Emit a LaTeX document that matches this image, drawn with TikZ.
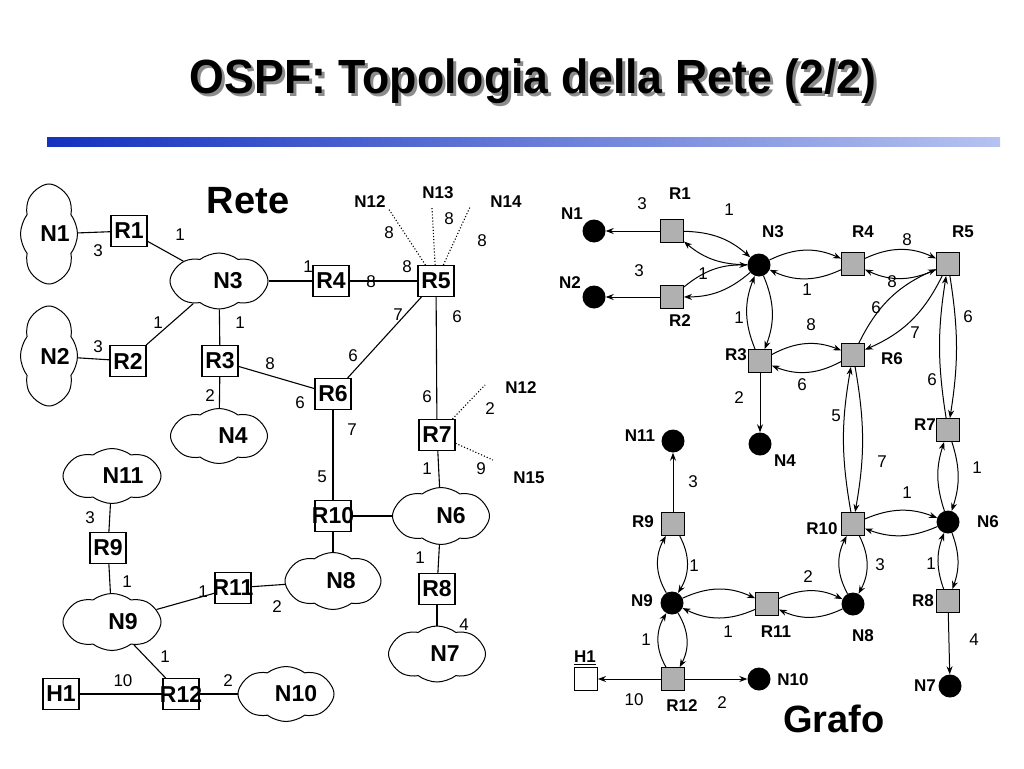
\documentclass[tikz,border=0pt]{standalone}
\usepackage{fontspec}
\setmainfont{Liberation Sans}
\usepackage{graphicx}
\usetikzlibrary{shapes.symbols,arrows.meta}
\definecolor{barL}{RGB}{20,50,190}
\definecolor{barR}{RGB}{182,194,240}
\definecolor{sqgray}{RGB}{176,176,176}
\definecolor{shadowgray}{RGB}{140,140,140}
\newcommand\fsBig{\fontsize{23}{26}\selectfont\bfseries}
\newcommand\fsMid{\fontsize{17}{20}\selectfont\bfseries}
\newcommand\fsNum{\fontsize{17}{20}\selectfont}
\newcommand\fsHead{\fontsize{38}{44}\selectfont\bfseries}
\newcommand\fsTitle{\fontsize{48}{56}\selectfont\bfseries}
\newcommand\cbx[1]{\makebox[0pt][c]{#1}}
\newcommand\ttl{\scalebox{0.93}[1]{OSPF: Topologia della Rete (2/2)}}
\begin{document}
\begin{tikzpicture}[x=1pt,y=-1pt,
  ln/.style={line width=1.1pt},
  dl/.style={line width=1.1pt, dotted},
  rbox/.style={draw, line width=1.1pt, minimum width=36pt, minimum height=31pt, inner sep=0pt, font=\fsBig, fill=white},
  cl/.style={cloud, draw, line width=1pt, cloud puffs=8, cloud puff arc=75, cloud ignores aspect, inner sep=0pt, font=\fsBig},
  wt/.style={font=\fsNum, inner sep=1pt},
  lb/.style={font=\fsMid, inner sep=1pt},
  gsq/.style={draw, line width=0.9pt, fill=sqgray, minimum size=23pt, inner sep=0pt},
  hsq/.style={draw, line width=0.9pt, fill=white, minimum size=23pt, inner sep=0pt},
  gdot/.style={circle, fill=black, minimum size=23pt, inner sep=0pt},
  ar/.style={line width=1pt, -{Stealth[length=8pt,width=6pt]}},
  bl/.style={ar, bend left=#1}]
\useasboundingbox (0,0) rectangle (1024,768);

% title
\node[font=\fsTitle, text=shadowgray, anchor=base] (tsh) at (536,96) {\ttl};
\node[font=\fsTitle, anchor=base] (title) at (533,93) {\ttl};
\fill[left color=barL, right color=barR] (47,137) rectangle (1000,146);

% ================= Rete =================
\node[font=\fsHead] (hRete) at (248,201) {Rete};

\node[cl, minimum width=48pt, minimum height=100pt] (N1) at (49,234) {\hspace*{12pt}N1};
\node[cl, minimum width=48pt, minimum height=100pt] (N2) at (49,356) {\hspace*{12pt}N2};
\node[cl, minimum width=98pt, minimum height=56pt] (N3) at (219,281) {\hspace*{18pt}N3};
\node[cl, minimum width=97pt, minimum height=55pt] (N4) at (219,436) {\hspace*{28pt}N4};
\node[cl, minimum width=97pt, minimum height=57pt] (N6) at (441,516) {\hspace*{20pt}N6};
\node[cl, minimum width=97pt, minimum height=56pt] (N7) at (437,654) {\hspace*{16pt}N7};
\node[cl, minimum width=96pt, minimum height=57pt] (N8) at (333,581) {\hspace*{16pt}N8};
\node[cl, minimum width=98pt, minimum height=57pt] (N9) at (112,622) {\hspace*{22pt}N9};
\node[cl, minimum width=96pt, minimum height=55pt] (N10) at (286,694) {\hspace*{20pt}N10};
\node[cl, minimum width=98pt, minimum height=55pt] (N11) at (112,476) {\hspace*{22pt}N11};

\node[rbox] (R1) at (129,231) {\cbx{R1}};
\node[rbox] (R2) at (128,361) {\cbx{R2}};
\node[rbox] (R3) at (220,361) {\cbx{R3}};
\node[rbox] (R4) at (331,281) {\cbx{R4}};
\node[rbox] (R5) at (436,281) {\cbx{R5}};
\node[rbox] (R6) at (333,394) {\cbx{R6}};
\node[rbox] (R7) at (437,435) {\cbx{R7}};
\node[rbox] (R8) at (437,589) {\cbx{R8}};
\node[rbox] (R9) at (108,548) {\cbx{R9}};
\node[rbox] (R10) at (333,516) {\cbx{R10}};
\node[rbox] (R11) at (233,588) {\cbx{R11}};
\node[rbox] (R12) at (181,694) {\cbx{R12}};
\node[rbox] (H1) at (61,694) {\cbx{H1}};

\coordinate (e12) at (388,208);
\coordinate (e13) at (432,208);
\coordinate (e14) at (470,207);
\coordinate (f12) at (485,385);
\coordinate (f15) at (493,460);

\draw[ln] (N1) -- (R1);
\draw[ln] (R1) -- (N3);
\draw[ln] (N2) -- (R2);
\draw[ln] (R2) -- (N3);
\draw[ln] (N3) -- (R3);
\draw[ln] (N3) -- (R4);
\draw[ln] (R4) -- (R5);
\draw[ln] (R5) -- (R6);
\draw[ln] (R5) -- (R7);
\draw[ln] (R3) -- (R6);
\draw[ln] (R3) -- (N4);
\draw[ln] (R6) -- (R10);
\draw[ln] (R7) -- (N6);
\draw[ln] (R10) -- (N6);
\draw[ln] (R10) -- (N8);
\draw[ln] (N6) -- (R8);
\draw[ln] (R8) -- (N7);
\draw[ln] (N8) -- (R11);
\draw[ln] (R11) -- (N9);
\draw[ln] (N11) -- (R9);
\draw[ln] (R9) -- (N9);
\draw[ln] (N9) -- (R12);
\draw[ln] (H1) -- (R12);
\draw[ln] (R12) -- (N10);
\draw[dl] (R5) -- (e12);
\draw[dl] (R5) -- (e13);
\draw[dl] (R5) -- (e14);
\draw[dl] (R7) -- (f12);
\draw[dl] (R7) -- (f15);

\node[lb] (tN12a) at (370,202) {N12};
\node[lb] (tN13) at (438,193) {N13};
\node[lb] (tN14) at (506,202) {N14};
\node[lb] (tN12b) at (521,388) {N12};
\node[lb] (tN15) at (529,478) {N15};

\node[wt] (a1) at (98,251) {3};
\node[wt] (a2) at (180,235) {1};
\node[wt] (a3) at (98,347) {3};
\node[wt] (a4) at (158,323) {1};
\node[wt] (a5) at (240,323) {1};
\node[wt] (a6) at (308,267) {1};
\node[wt] (a7) at (371,282) {8};
\node[wt] (a8) at (407,267) {8};
\node[wt] (a9) at (389,233) {8};
\node[wt] (a10) at (449,219) {8};
\node[wt] (a11) at (482,241) {8};
\node[wt] (a12) at (398,315) {7};
\node[wt] (a13) at (353,356) {6};
\node[wt] (a14) at (457,317) {6};
\node[wt] (a15) at (270,364) {8};
\node[wt] (a16) at (300,403) {6};
\node[wt] (a17) at (210,396) {2};
\node[wt] (a18) at (352,430) {7};
\node[wt] (a19) at (322,477) {5};
\node[wt] (a20) at (427,397) {6};
\node[wt] (a21) at (490,409) {2};
\node[wt] (a22) at (481,469) {9};
\node[wt] (a23) at (427,469) {1};
\node[wt] (a24) at (420,558) {1};
\node[wt] (a25) at (464,625) {4};
\node[wt] (a26) at (277,607) {2};
\node[wt] (a27) at (203,592) {1};
\node[wt] (a28) at (90,518) {3};
\node[wt] (a29) at (127,582) {1};
\node[wt] (a30) at (165,657) {1};
\node[wt] (a31) at (123,681) {10};
\node[wt] (a32) at (228,681) {2};

% ================= Grafo =================
\node[font=\fsHead] (hGrafo) at (834,719) {Grafo};

\node[gdot] (gN1) at (594,231) {};
\node[gdot] (gN2) at (594,297) {};
\node[gdot] (gN3) at (759,265) {};
\node[gdot] (gN4) at (760,444) {};
\node[gdot] (gN6) at (948,522) {};
\node[gdot] (gN7) at (950,686) {};
\node[gdot] (gN8) at (853,604) {};
\node[gdot] (gN9) at (672,603) {};
\node[gdot] (gN10) at (759,679) {};
\node[gdot] (gN11) at (673,441) {};
\node[gsq] (gR1) at (672,231) {};
\node[gsq] (gR2) at (672,297) {};
\node[gsq] (gR3) at (760,361) {};
\node[gsq] (gR4) at (853,264) {};
\node[gsq] (gR5) at (948,264) {};
\node[gsq] (gR6) at (853,355) {};
\node[gsq] (gR7) at (948,430) {};
\node[gsq] (gR8) at (948,601) {};
\node[gsq] (gR9) at (673,524) {};
\node[gsq] (gR10) at (853,524) {};
\node[gsq] (gR11) at (767,604) {};
\node[gsq] (gR12) at (673,679) {};
\node[hsq] (gH1) at (586,679) {};

\draw[ar] (gR1) -- (gN1);
\draw[ar] (gR2) -- (gN2);
\draw[bl=20] (gR1) to (gN3);
\draw[bl=20] (gN3) to (gR1);
\draw[bl=20] (gR2) to (gN3);
\draw[bl=20] (gN3) to (gR2);
\draw[bl=22] (gN3) to (gR3);
\draw[bl=22] (gR3) to (gN3);
\draw[bl=25] (gN3) to (gR4);
\draw[bl=25] (gR4) to (gN3);
\draw[bl=25] (gR4) to (gR5);
\draw[bl=25] (gR5) to (gR4);
\draw[bl=25] (gR3) to (gR6);
\draw[bl=25] (gR6) to (gR3);
\draw[bl=20] (gR5) to (gR6);
\draw[bl=20] (gR6) to (gR5);
\draw[bl=9] (gR5) to (gR7);
\draw[bl=9] (gR7) to (gR5);
\draw[bl=10] (gR6) to (gR10);
\draw[bl=10] (gR10) to (gR6);
\draw[bl=18] (gR7) to (gN6);
\draw[bl=18] (gN6) to (gR7);
\draw[bl=22] (gR10) to (gN6);
\draw[bl=22] (gN6) to (gR10);
\draw[bl=28] (gR10) to (gN8);
\draw[bl=28] (gN8) to (gR10);
\draw[bl=20] (gN6) to (gR8);
\draw[bl=20] (gR8) to (gN6);
\draw[ar] (gR8) -- (gN7);
\draw[ar] (gR3) -- (gN4);
\draw[ar] (gR9) -- (gN11);
\draw[bl=30] (gR9) to (gN9);
\draw[bl=30] (gN9) to (gR9);
\draw[bl=25] (gN9) to (gR11);
\draw[bl=25] (gR11) to (gN9);
\draw[bl=25] (gR11) to (gN8);
\draw[bl=25] (gN8) to (gR11);
\draw[bl=30] (gN9) to (gR12);
\draw[bl=30] (gR12) to (gN9);
\draw[ar] (gR12) -- (gH1);
\draw[ar] (gR12) -- (gN10);

\node[lb] (lN1) at (572,214) {N1};
\node[lb] (lN2) at (570,283) {N2};
\node[lb] (lN3) at (773,232) {N3};
\node[lb] (lN4) at (785,461) {N4};
\node[lb] (lN6) at (988,522) {N6};
\node[lb] (lN7) at (925,686) {N7};
\node[lb] (lN8) at (863,636) {N8};
\node[lb] (lN9) at (642,601) {N9};
\node[lb] (lN10) at (793,680) {N10};
\node[lb] (lN11) at (640,436) {N11};
\node[lb] (lR1) at (680,194) {R1};
\node[lb] (lR2) at (680,321) {R2};
\node[lb] (lR3) at (736,355) {R3};
\node[lb] (lR4) at (863,232) {R4};
\node[lb] (lR5) at (963,232) {R5};
\node[lb] (lR6) at (892,359) {R6};
\node[lb] (lR7) at (925,425) {R7};
\node[lb] (lR8) at (923,601) {R8};
\node[lb] (lR9) at (643,522) {R9};
\node[lb] (lR10) at (822,529) {R10};
\node[lb] (lR11) at (776,632) {R11};
\node[lb] (lR12) at (682,706) {R12};
\node[lb] (lH1) at (585,658) {\underline{H1}};

\node[wt] (b1) at (642,204) {3};
\node[wt] (b2) at (729,210) {1};
\node[wt] (b3) at (639,271) {3};
\node[wt] (b4) at (703,274) {1};
\node[wt] (b5) at (739,318) {1};
\node[wt] (b6) at (739,398) {2};
\node[wt] (b7) at (807,290) {1};
\node[wt] (b8) at (907,240) {8};
\node[wt] (b9) at (892,282) {8};
\node[wt] (b10) at (876,308) {6};
\node[wt] (b11) at (915,333) {7};
\node[wt] (b12) at (968,317) {6};
\node[wt] (b13) at (811,325) {8};
\node[wt] (b14) at (802,385) {6};
\node[wt] (b15) at (932,380) {6};
\node[wt] (b16) at (836,416) {5};
\node[wt] (b17) at (882,462) {7};
\node[wt] (b18) at (977,468) {1};
\node[wt] (b19) at (907,493) {1};
\node[wt] (b20) at (880,565) {3};
\node[wt] (b21) at (931,564) {1};
\node[wt] (b22) at (808,577) {2};
\node[wt] (b23) at (974,640) {4};
\node[wt] (b24) at (693,482) {3};
\node[wt] (b25) at (694,566) {1};
\node[wt] (b26) at (728,632) {1};
\node[wt] (b27) at (646,640) {1};
\node[wt] (b28) at (634,700) {10};
\node[wt] (b29) at (722,703) {2};
\end{tikzpicture}
\end{document}
